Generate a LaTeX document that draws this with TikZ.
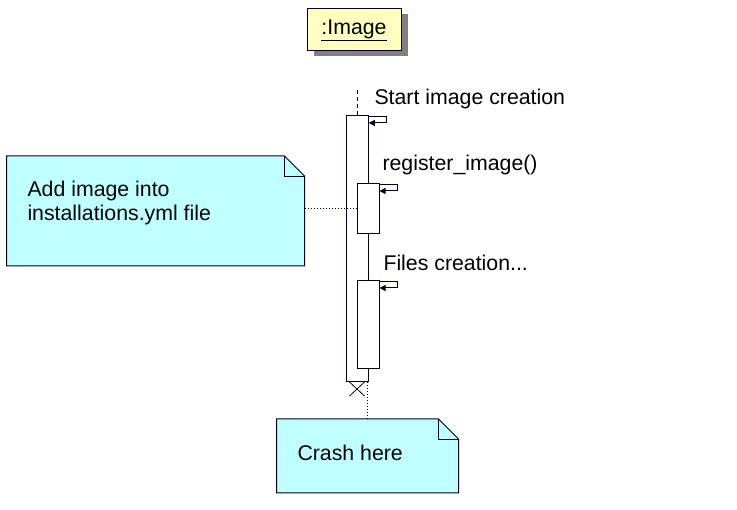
\documentclass[tikz,border=0pt]{standalone}
\usepackage{fontspec}
\setmainfont{Liberation Sans}
\usetikzlibrary{positioning,calc,shadows,arrows.meta}

\definecolor{objyellow}{RGB}{255,255,192}
\definecolor{notecyan}{RGB}{192,255,255}
\definecolor{umlline}{RGB}{0,0,32}
\definecolor{shadowgray}{RGB}{128,128,128}

\tikzset{
	objbox/.style={draw=umlline, fill=objyellow, inner sep=0,
		drop shadow={shadow xshift=7pt, shadow yshift=-5pt, fill=shadowgray, opacity=1}},
	act/.style={draw=umlline, fill=white, inner sep=0},
	selfcall/.style={-{Triangle[length=6pt, width=6pt]}},
	msgtext/.style={anchor=base west, inner sep=0},
	notebox/.style={inner sep=0},
	notetext/.style={anchor=west, inner sep=0, align=left},
}

\begin{document}
\begin{tikzpicture}[x=1pt, y=-1pt, line width=1pt, draw=umlline, text=black,
	font=\fontsize{21.3}{24}\selectfont]

	\useasboundingbox (0,0) rectangle (737,510);

% object and lifeline
\node[objbox, minimum width=94pt, minimum height=42pt] (img) at (354,30) {\underline{:Image}};

\node[act, minimum width=21.5pt, minimum height=266pt] (main) at (357.5,248.5) {};
\draw[dash pattern=on 4pt off 3pt] (main.north) -- ++(0,-27);
\node[act, minimum width=22pt, minimum height=50pt] (reg) at (368,208.5) {};
\node[act, minimum width=22pt, minimum height=88pt] (files) at (368,324.5) {};

\foreach \b in {main,reg,files}
\draw[selfcall] ([yshift=-1.5pt]\b.north east) -- ++(18,0) |- ([yshift=-8pt]\b.north east);

\node[msgtext] (startlbl) at (374,104.5) {Start image creation};
\node[msgtext] (reglbl) at (382,170.5) {register\_image()};
\node[msgtext] (fileslbl) at (383,270.5) {Files creation...};

% destroy
\draw[line width=0.8pt] ($(main.south)+(-8,0)$) -- ++(15,14);
\draw[line width=0.8pt] ($(main.south)+(7,0)$) -- ++(-15,14);

% notes
\node[notebox, minimum width=297pt, minimum height=109pt] (addnote) at (155.5,211) {};
\node[notebox, minimum width=181pt, minimum height=73pt] (crashnote) at (367.5,456) {};
\foreach \n in {addnote,crashnote} {
	\draw[fill=notecyan] (\n.north west) -- ($(\n.north east)+(-20,0)$) -- ($(\n.north east)+(0,20)$)
		-- (\n.south east) -- (\n.south west) -- cycle;
	\draw[line width=0.8pt] ($(\n.north east)+(-20,0)$) |- ($(\n.north east)+(0,20)$);
}
\node[notetext] (addtext) at (27,203) {Add image into\\installations.yml file};
\node[notetext] (crashtext) at (297,452.5) {Crash here};

\draw[dotted] (reg.west -| addnote.east) -- (reg.west);
\draw[dotted] (crashnote.north) -- (crashnote.north |- main.south);

\end{tikzpicture}
\end{document}
